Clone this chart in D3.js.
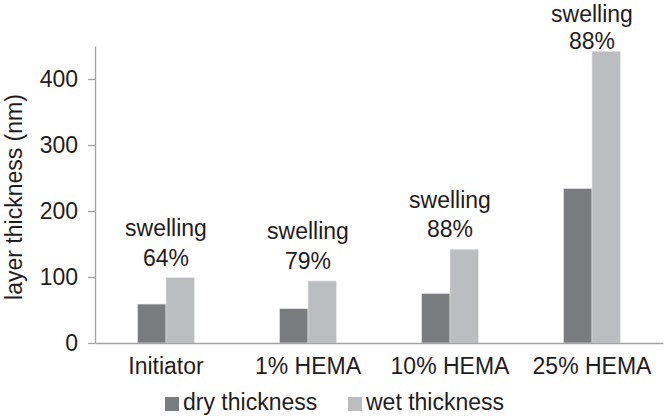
<!DOCTYPE html>
<html>
<head>
<meta charset="utf-8">
<script src="https://cdn.jsdelivr.net/npm/d3@7"></script>
<style>
  body { margin: 0; background: #fff; }
  svg text { font-family: "Liberation Sans", Arial, sans-serif; fill: #1f1c1d; }
</style>
</head>
<body>
<div id="chart"></div>
<script>
// data
var categories = ["Initiator", "1% HEMA", "10% HEMA", "25% HEMA"];
var dryThickness = [59, 52, 75, 234];
var wetThickness = [99, 94, 142, 442];
var swellingLabels = ["64%", "79%", "88%", "88%"];
var seriesNames = ["dry thickness", "wet thickness"];
var yTicks = [0, 100, 200, 300, 400];

var W = 666, H = 418;
var margin = {top: 46, right: 3, bottom: 75, left: 95};
var colors = ["#7a7b7f", "#bcbdc0"];
var fontSize = "23px";

var svg = d3.select("#chart").append("svg")
  .attr("width", W).attr("height", H);

var x = d3.scaleBand()
  .domain(categories)
  .range([margin.left, W - margin.right]);

var y = d3.scaleLinear()
  .domain([0, 450])
  .range([H - margin.bottom, margin.top]);

var inner = d3.scaleBand()
  .domain([0, 1])
  .range([x.bandwidth() * 0.3, x.bandwidth() * 0.7]);

// y axis
var yAxis = svg.append("g")
  .attr("transform", "translate(" + margin.left + ",0)")
  .call(d3.axisLeft(y).tickValues(yTicks).tickSize(7).tickPadding(10).tickSizeOuter(0));
yAxis.select(".domain").attr("stroke", "#a3a3a5").attr("stroke-width", 1.3);
yAxis.selectAll(".tick line").attr("stroke", "#a3a3a5").attr("stroke-width", 1.3);
yAxis.selectAll(".tick text").style("font-size", fontSize);

// bars
var rows = categories.map(function (c, i) {
  return {cat: c, vals: [dryThickness[i], wetThickness[i]], label: swellingLabels[i]};
});

var groups = svg.append("g").selectAll("g")
  .data(rows).join("g")
  .attr("transform", function (d) { return "translate(" + x(d.cat) + ",0)"; });

groups.selectAll("rect")
  .data(function (d) { return d.vals; })
  .join("rect")
  .attr("x", function (d, i) { return inner(i); })
  .attr("width", inner.bandwidth())
  .attr("y", function (d) { return y(d); })
  .attr("height", function (d) { return y(0) - y(d); })
  .attr("fill", function (d, i) { return colors[i]; })
  .attr("stroke", "#e6e6e6")
  .attr("stroke-width", 0.6);

// swelling annotations, kept inside the top of the picture
groups.each(function (d) {
  var g = d3.select(this);
  var pct = Math.max(y(d.vals[1]) - 12, 49);
  var sw = Math.max(pct - 29.5, 21.5);
  var cx = x.bandwidth() / 2;
  g.append("text").attr("x", cx).attr("y", sw)
    .attr("text-anchor", "middle").style("font-size", fontSize).text("swelling");
  g.append("text").attr("x", cx).attr("y", pct)
    .attr("text-anchor", "middle").style("font-size", fontSize).text(d.label);
});

// x axis
var xAxis = svg.append("g")
  .attr("transform", "translate(0," + y(0) + ")")
  .call(d3.axisBottom(x).tickSize(0).tickPadding(10).tickSizeOuter(0));
xAxis.select(".domain").attr("stroke", "#a3a3a5").attr("stroke-width", 1.3);
xAxis.selectAll(".tick text").style("font-size", fontSize).attr("dy", "0.9em");

// y axis label
svg.append("text")
  .attr("transform", "translate(22,197) rotate(-90)")
  .attr("text-anchor", "middle")
  .style("font-size", fontSize)
  .text("layer thickness (nm)");

// legend
var legendX = [165, 348];
var legend = svg.append("g").selectAll("g")
  .data(seriesNames).join("g")
  .attr("transform", function (d, i) { return "translate(" + legendX[i] + ",397)"; });
legend.append("rect").attr("width", 14).attr("height", 14)
  .attr("fill", function (d, i) { return colors[i]; });
legend.append("text").attr("x", 18).attr("y", 12.5)
  .style("font-size", fontSize).text(function (d) { return d; });
</script>
</body>
</html>
